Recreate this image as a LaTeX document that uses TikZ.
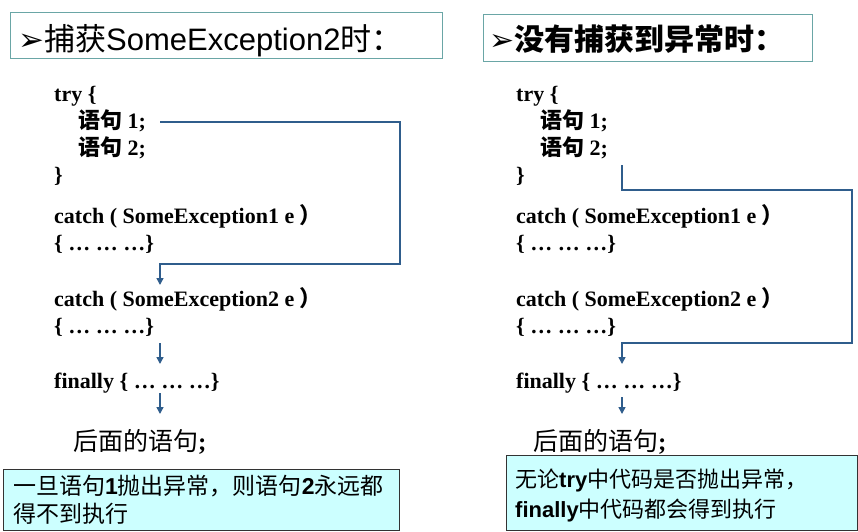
\documentclass[tikz,border=0pt]{standalone}
\usepackage{fontspec}
\setmainfont{Liberation Serif}
\newfontfamily\cjk{Noto Sans CJK SC}
\newfontfamily\arial{Liberation Sans}
\newfontfamily\dv{DejaVu Sans}
\usetikzlibrary{arrows.meta}
\definecolor{flow}{HTML}{2F5D8C}
\definecolor{tborder}{HTML}{6AA6A6}
\definecolor{note}{HTML}{CCFFFF}
\newcommand\zh[1]{{\cjk\bfseries #1}}
\newcommand\ab[1]{{\arial\bfseries #1}}
\begin{document}
\begin{tikzpicture}[x=1pt,y=-1pt,
  code/.style={anchor=base west, inner sep=0pt, font=\fontsize{22}{22}\selectfont\bfseries},
  titletext/.style={anchor=base west, inner sep=0pt, font=\fontsize{30}{30}\selectfont},
  notetext/.style={anchor=base west, inner sep=0pt, font=\fontsize{23}{23}\selectfont\cjk},
  titlebox/.style={draw=tborder, line width=0.8pt, fill=white},
  flowline/.style={draw=flow, line width=1.5pt},
  flowarrow/.style={flowline, -{Triangle[width=7pt,length=7pt]}},
  notebox/.style={draw=black!80, line width=0.8pt, fill=note}]
\useasboundingbox (0,0) rectangle (858,531);

% ---------- titles ----------
\draw[titlebox] (10,12) rectangle (442,58);
\node[titletext, font=\fontsize{31}{31}\selectfont] (lt) at (18,50) {{\dv ➢}{\cjk 捕获}{\arial SomeException2}{\cjk 时：}};
\draw[titlebox] (483,14) rectangle (812,61);
\node[titletext] (rt) at (489,50) {{\dv ➢}{\cjk\bfseries 没有捕获到异常时：}};

% ---------- left code ----------
\node[code] (l1) at (54,101) {try \{};
\node[code] (l2) at (78,128) {\zh{语句} 1;};
\node[code] (l3) at (78,155) {\zh{语句} 2;};
\node[code] (l4) at (54,182) {\}};
\node[code] (l5) at (54,223) {catch ( SomeException1 e \zh{）}};
\node[code] (l6) at (54,250) {\{ … … …\}};
\node[code] (l7) at (54,306) {catch ( SomeException2 e \zh{）}};
\node[code] (l8) at (54,333) {\{ … … …\}};
\node[code] (l9) at (54,388) {finally \{ … … …\}};
\node[code, font=\fontsize{25}{25}\selectfont\bfseries] (l10) at (73,450) {{\cjk\mdseries 后面的语句};};

% ---------- right code ----------
\node[code] (r1) at (516,101) {try \{};
\node[code] (r2) at (540,128) {\zh{语句} 1;};
\node[code] (r3) at (540,155) {\zh{语句} 2;};
\node[code] (r4) at (516,182) {\}};
\node[code] (r5) at (516,223) {catch ( SomeException1 e \zh{）}};
\node[code] (r6) at (516,250) {\{ … … …\}};
\node[code] (r7) at (516,306) {catch ( SomeException2 e \zh{）}};
\node[code] (r8) at (516,333) {\{ … … …\}};
\node[code] (r9) at (516,388) {finally \{ … … …\}};
\node[code, font=\fontsize{25}{25}\selectfont\bfseries] (r10) at (533,450) {{\cjk\mdseries 后面的语句};};

% ---------- left flow ----------
\coordinate (la0) at (160,122);
\coordinate (la1) at (400,122);
\coordinate (la2) at (400,264);
\coordinate (la3) at (160,264);
\coordinate (la4) at (160,285);
\draw[flowarrow] (la0) -- (la1) -- (la2) -- (la3) -- (la4);
\coordinate (lb0) at (160,343);
\coordinate (lb1) at (160,364);
\draw[flowarrow] (lb0) -- (lb1);
\coordinate (lc0) at (160,393);
\coordinate (lc1) at (160,414);
\draw[flowarrow] (lc0) -- (lc1);

% ---------- right flow ----------
\coordinate (ra0) at (622,165);
\coordinate (ra1) at (622,190);
\coordinate (ra2) at (852,190);
\coordinate (ra3) at (852,343);
\coordinate (ra4) at (622,343);
\coordinate (ra5) at (622,364);
\draw[flowarrow] (ra0) -- (ra1) -- (ra2) -- (ra3) -- (ra4) -- (ra5);
\coordinate (rb0) at (622,397);
\coordinate (rb1) at (622,414);
\draw[flowarrow] (rb0) -- (rb1);

% ---------- notes ----------
\draw[notebox] (3,469) rectangle (399,530);
\node[notetext] (ln1) at (13,494) {一旦语句\ab{1}抛出异常，则语句\ab{2}永远都};
\node[notetext] (ln2) at (13,522) {得不到执行};
\draw[notebox] (506,455) rectangle (857,530);
\node[notetext, font=\fontsize{22}{22}\selectfont\cjk] (rn1) at (515,487) {无论\ab{try}中代码是否抛出异常，};
\node[notetext, font=\fontsize{22}{22}\selectfont\cjk] (rn2) at (515,517) {\ab{finally}中代码都会得到执行};
\end{tikzpicture}
\end{document}
